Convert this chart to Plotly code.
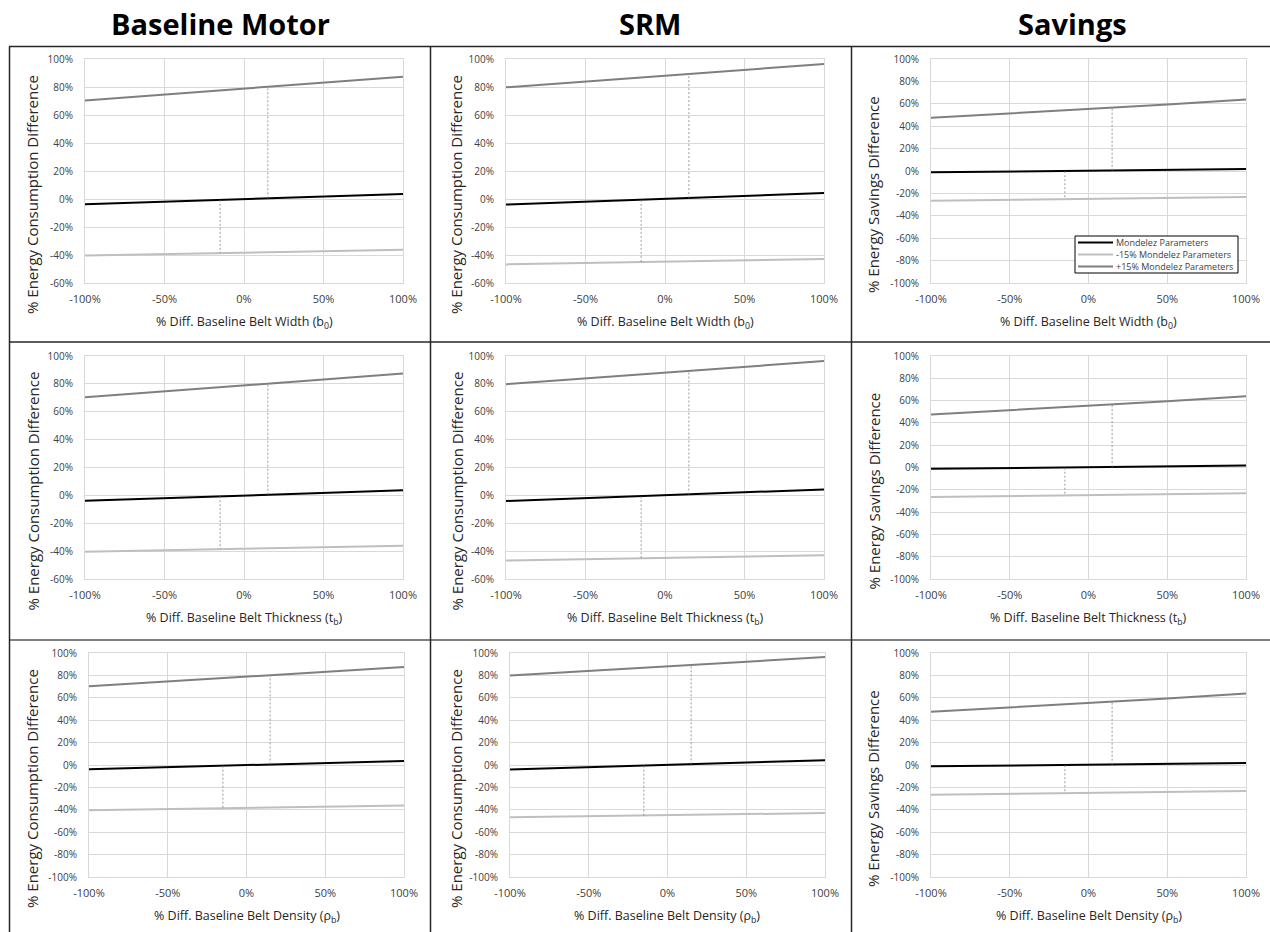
import plotly.graph_objects as go

W, H = 1270, 932

# ---------------- data ----------------
x_pct = [-100, -50, 0, 50, 100]

# Baseline Motor
bm_mondelez = [-3.8, -1.9, 0.0, 1.8, 3.6]
bm_minus15 = [-40.4, -39.3, -38.2, -37.2, -36.2]
bm_plus15 = [70.4, 74.6, 78.9, 83.1, 87.4]

# SRM
srm_mondelez = [-4.0, -2.0, 0.0, 2.1, 4.3]
srm_minus15 = [-46.7, -45.7, -44.8, -43.9, -42.9]
srm_plus15 = [79.8, 83.9, 88.0, 92.1, 96.4]

# Savings
sv_mondelez = [-1.2, -0.5, 0.2, 1.0, 1.8]
sv_minus15 = [-26.5, -25.7, -24.9, -24.1, -23.2]
sv_plus15 = [47.5, 51.3, 55.2, 59.4, 63.8]

# sensitivity markers (dashed verticals) at +15% and -15%
sens_plus_x = 15
sens_minus_x = -15
bm_sens_plus = [0.5, 80.2]
bm_sens_minus = [-0.6, -38.4]
srm_sens_plus = [0.6, 89.2]
srm_sens_minus = [-0.6, -45.1]
sv_sens_plus = [0.3, 56.4]
sv_sens_minus = [-0.2, -25.1]

column_titles = ["Baseline Motor", "SRM", "Savings"]
series_names = ["Mondelez Parameters", "-15% Mondelez Parameters", "+15% Mondelez Parameters"]
x_titles = ["% Diff. Baseline Belt Width (b<sub>0</sub>)",
            "% Diff. Baseline Belt Thickness (t<sub>b</sub>)",
            "% Diff. Baseline Belt Density (ρ<sub>b</sub>)"]
y_titles = ["% Energy Consumption Difference", "% Energy Consumption Difference",
            "% Energy Savings Difference"]

x_tickvals = [-100, -50, 0, 50, 100]
x_ticktext = ["-100%", "-50%", "0%", "50%", "100%"]
y_tickvals_full = [-100, -80, -60, -40, -20, 0, 20, 40, 60, 80, 100]
y_ticktext_full = ["-100%", "-80%", "-60%", "-40%", "-20%", "0%", "20%", "40%", "60%", "80%", "100%"]
y_tickvals_short = [-60, -40, -20, 0, 20, 40, 60, 80, 100]
y_ticktext_short = ["-60%", "-40%", "-20%", "0%", "20%", "40%", "60%", "80%", "100%"]

col_data = [
    (bm_mondelez, bm_minus15, bm_plus15, bm_sens_plus, bm_sens_minus),
    (srm_mondelez, srm_minus15, srm_plus15, srm_sens_plus, srm_sens_minus),
    (sv_mondelez, sv_minus15, sv_plus15, sv_sens_plus, sv_sens_minus),
]

# ---------------- layout geometry (pixels) ----------------
row_px = [(59, 283), (356, 579), (653, 877)]
col_px = {
    (0, 0): (85, 403), (1, 0): (85, 403), (2, 0): (89, 404),
    (0, 1): (506, 824), (1, 1): (506, 824), (2, 1): (510, 825),
    (0, 2): (931, 1246), (1, 2): (931, 1246), (2, 2): (931, 1246),
}
y_short = {(0, 0), (1, 0), (0, 1), (1, 1)}

colors = ["#000000", "#bfbfbf", "#7f7f7f"]
font_family = "Open Sans, sans-serif"

fig = go.Figure()
layout = dict(
    width=W, height=H, margin=dict(l=0, r=0, t=0, b=0, pad=0, autoexpand=False),
    paper_bgcolor="white", plot_bgcolor="white",
    font=dict(family=font_family, color="#404040"),
    showlegend=False,
)
annotations = []
shapes = []

for r in range(3):
    for c in range(3):
        i = r * 3 + c + 1
        xa = "x" if i == 1 else f"x{i}"
        ya = "y" if i == 1 else f"y{i}"
        mond, minus, plus, sp, sm = col_data[c]
        for name, vals, col in zip(series_names, [mond, minus, plus], colors):
            fig.add_trace(go.Scatter(
                x=x_pct, y=vals, mode="lines", name=name,
                line=dict(color=col, width=2), xaxis=xa, yaxis=ya,
                hoverinfo="skip"))
        for sx, sv in [(sens_plus_x, sp), (sens_minus_x, sm)]:
            fig.add_trace(go.Scatter(
                x=[sx, sx], y=sv, mode="lines",
                line=dict(color="#808080", width=0.8, dash="2px,2px"),
                xaxis=xa, yaxis=ya, hoverinfo="skip"))

        x0, x1 = col_px[(r, c)]
        y0, y1 = row_px[r]
        short = (r, c) in y_short
        xkey = "xaxis" if i == 1 else f"xaxis{i}"
        ykey = "yaxis" if i == 1 else f"yaxis{i}"
        layout[xkey] = dict(
            domain=[x0 / W, x1 / W], anchor=ya, range=[-100, 100],
            tickvals=x_tickvals, ticktext=x_ticktext, automargin=False,
            showgrid=True, gridcolor="#d9d9d9", gridwidth=1,
            zeroline=False, showline=True, linecolor="#d9d9d9", linewidth=1, mirror=True,
            ticks="", tickfont=dict(size=11, color="#404040"), ticklabelstandoff=6,
        )
        layout[ykey] = dict(
            domain=[1 - y1 / H, 1 - y0 / H], anchor=xa, automargin=False,
            range=[-60, 100] if short else [-100, 100],
            tickvals=y_tickvals_short if short else y_tickvals_full,
            ticktext=y_ticktext_short if short else y_ticktext_full,
            showgrid=True, gridcolor="#d9d9d9", gridwidth=1,
            zeroline=False, showline=True, linecolor="#d9d9d9", linewidth=1, mirror=True,
            ticks="", tickfont=dict(size=10, color="#404040"), ticklabelstandoff=9,
        )
        # axis titles
        annotations.append(dict(
            text=x_titles[r], x=(x0 + x1) / 2 / W, y=1 - (y1 + 39) / H,
            xref="paper", yref="paper", showarrow=False,
            font=dict(size=12.5, color="#262626", family=font_family),
            xanchor="center", yanchor="middle"))
        ytx = [32, 456, 873][c]
        annotations.append(dict(
            text=y_titles[c], x=ytx / W, y=1 - ((y0 + y1) / 2 + 24) / H,
            xref="paper", yref="paper", showarrow=False, textangle=-90,
            font=dict(size=15, color="#262626", family=font_family),
            xanchor="center", yanchor="middle"))

# column titles
for t, cx in zip(column_titles, [220, 650, 1072]):
    annotations.append(dict(
        text=f"<b>{t}</b>", x=cx / W, y=1 - 24 / H, xref="paper", yref="paper",
        showarrow=False, font=dict(size=29, color="#000000", family=font_family),
        xanchor="center", yanchor="middle"))

# cell borders
def hline(py, x0, x1, color="#262626", w=1.5, layer="above"):
    shapes.append(dict(type="line", xref="paper", yref="paper", layer=layer,
                       x0=x0 / W, x1=x1 / W, y0=1 - py / H, y1=1 - py / H,
                       line=dict(color=color, width=w)))

def vline(px, y0, y1, color="#262626", w=1.5):
    shapes.append(dict(type="line", xref="paper", yref="paper",
                       x0=px / W, x1=px / W, y0=1 - y0 / H, y1=1 - y1 / H,
                       line=dict(color=color, width=w)))

hline(46.5, 9, 1270)
hline(342, 9, 1270)
hline(640, 9, 1270, color="#7f7f7f", w=2)
vline(9.5, 46.5, 932)
vline(430.5, 46.5, 932)
vline(851.5, 46.5, 932)

# legend box (in Savings / belt-width panel)
lg_x0, lg_x1, lg_y0, lg_y1 = 1075, 1238, 236, 273
shapes.append(dict(type="rect", xref="paper", yref="paper", layer="above",
                   x0=lg_x0 / W, x1=lg_x1 / W, y0=1 - lg_y1 / H, y1=1 - lg_y0 / H,
                   fillcolor="white", line=dict(color="#000000", width=1)))
for k, (name, col) in enumerate(zip(series_names, colors)):
    yy = 242.5 + 12 * k
    shapes.append(dict(type="line", xref="paper", yref="paper", layer="above",
                       x0=1078 / W, x1=1113 / W, y0=1 - yy / H, y1=1 - yy / H,
                       line=dict(color=col, width=2)))
    annotations.append(dict(
        text=name, x=1114 / W, y=1 - yy / H, xref="paper", yref="paper",
        showarrow=False, xanchor="left", yanchor="middle",
        font=dict(size=9, color="#404040", family=font_family)))

layout["annotations"] = annotations
layout["shapes"] = shapes
fig.update_layout(**layout)
fig.write_html("out.html")
